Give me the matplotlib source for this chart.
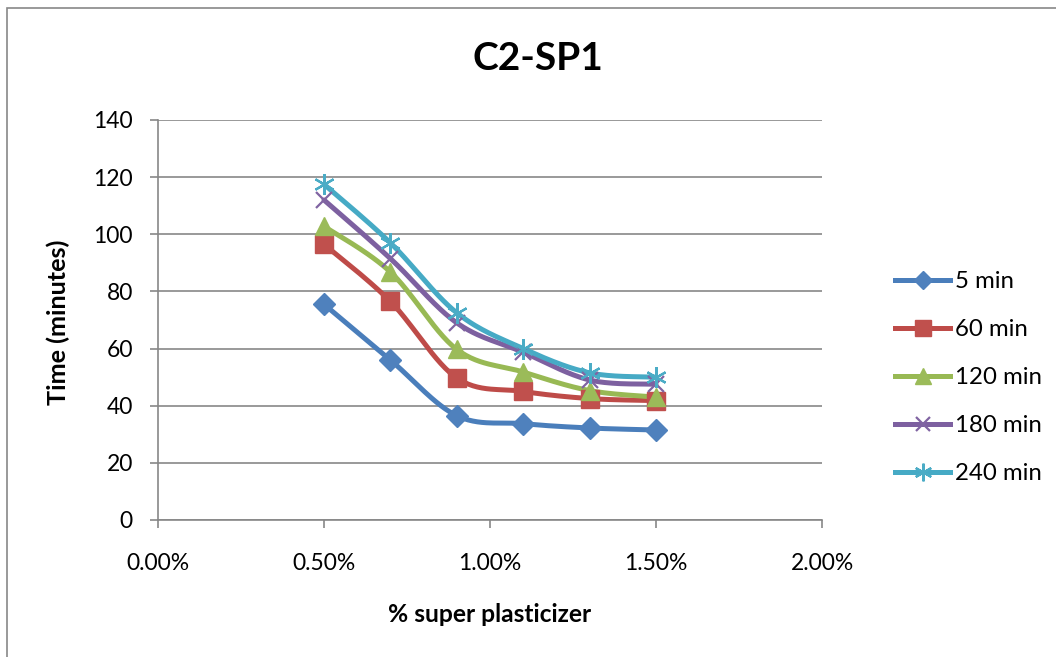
import numpy as np
import matplotlib
matplotlib.use("Agg")
import matplotlib.pyplot as plt
from matplotlib.ticker import PercentFormatter, MultipleLocator
from matplotlib.patches import Rectangle

plt.rcParams['font.family'] = ['Lato', 'DejaVu Sans']

# Data
sp_dose = [0.005, 0.007, 0.009, 0.011, 0.013, 0.015]
series_names = ["5 min", "60 min", "120 min", "180 min", "240 min"]
t5 = [75.5, 56.0, 36.5, 33.7, 32.2, 31.5]
t60 = [96.5, 76.5, 49.7, 45.0, 42.5, 41.8]
t120 = [102.8, 86.8, 59.7, 51.8, 45.3, 43.0]
t180 = [112.0, 91.5, 69.0, 58.7, 49.0, 47.5]
t240 = [117.5, 97.0, 72.5, 60.0, 51.5, 50.0]
values = [t5, t60, t120, t180, t240]

line_colors = ["#4A7EBB", "#BE4B48", "#98B954", "#7D60A0", "#46AAC5"]
marker_colors = ["#4F81BD", "#C0504D", "#9BBB59", "#8064A2", "#4BACC6"]
markers = ["D", "s", "^", "x", (6, 2, 0)]
msizes = [11, 13, 13, 12, 15]

XMAX, YMAX = 0.02, 140.0

def smooth(x, y, n=30):
    px = np.asarray(x) / XMAX * 664.0
    py = np.asarray(y) / YMAX * 400.0
    P = np.column_stack([px, py])
    out = [P[0]]
    for i in range(len(P) - 1):
        p0 = P[i - 1] if i > 0 else P[i]
        p1 = P[i]
        p2 = P[i + 1]
        p3 = P[i + 2] if i + 2 < len(P) else P[i + 1]
        c1 = p1 + (p2 - p0) / 6.0
        c2 = p2 - (p3 - p1) / 6.0
        t = np.linspace(0, 1, n)[1:, None]
        seg = ((1 - t) ** 3) * p1 + 3 * ((1 - t) ** 2) * t * c1 + 3 * (1 - t) * t ** 2 * c2 + t ** 3 * p2
        out.extend(seg)
    out = np.array(out)
    return out[:, 0] / 664.0 * XMAX, out[:, 1] / 400.0 * YMAX

fig = plt.figure(figsize=(10.56, 6.57), dpi=100)
W, H = 1056, 657
renderer = fig.canvas.get_renderer()

def fit_size(text, target_px, bold=False, base=14.0):
    t = fig.text(0, 0, text, fontsize=base, fontweight='bold' if bold else 'normal')
    w = t.get_window_extent(renderer=renderer).width
    t.remove()
    return base * target_px / w

fs_title = fit_size("C2-SP1", 131, bold=True)
fs_xlab = fit_size("% super plasticizer", 204, bold=True)
fs_ylab = fit_size("Time (minutes)", 167, bold=True)
fs_tick = fit_size("0.00%", 64)
fs_leg = fit_size("240 min", 87)
leg_px = fs_leg * 100 / 72.0

fig.patches.append(Rectangle((7 / W, -0.1), 1.2, (H - 8) / H + 0.1, transform=fig.transFigure,
                             fill=False, edgecolor="#888888", linewidth=1.2))

ax = fig.add_axes([158 / W, 1 - 520 / H, (822 - 158) / W, 400 / H])
ax.set_xlim(0, XMAX)
ax.set_ylim(0, YMAX)
ax.xaxis.set_major_locator(MultipleLocator(0.005))
ax.xaxis.set_major_formatter(PercentFormatter(xmax=1, decimals=2))
ax.yaxis.set_major_locator(MultipleLocator(20))
ax.grid(axis='y', color="#878787", linewidth=1.2)
ax.set_axisbelow(True)
for s in ["top", "right"]:
    ax.spines[s].set_visible(False)
for s in ["left", "bottom"]:
    ax.spines[s].set_color("#878787")
    ax.spines[s].set_linewidth(1.2)
ax.tick_params(axis='both', direction='out', length=6, width=1.2, color="#878787",
               labelsize=fs_tick, colors="black")
ax.tick_params(axis='y', pad=12)
ax.tick_params(axis='x', pad=18)

for name, vals, lc, mc, mk, ms in zip(series_names, values, line_colors, marker_colors, markers, msizes):
    sx, sy = smooth(sp_dose, vals)
    ax.plot(sx, sy, color=lc, linewidth=3.6, solid_capstyle='round', zorder=3)
    ax.plot(sp_dose, vals, linestyle='none', marker=mk, markersize=ms, color=mc,
            markeredgecolor=mc, markeredgewidth=1.6 if mk in ("x", (6, 2, 0)) else 1, zorder=4)
    ax.plot([], [], color=lc, linewidth=3.6, marker=mk, markersize=ms * 0.85, markerfacecolor=mc,
            markeredgecolor=mc, markeredgewidth=1.6 if mk in ("x", (6, 2, 0)) else 1, label=name)

spacing = (48 - 1.0 * leg_px) / leg_px * 0.92 + 5 / leg_px
leg = ax.legend(loc='upper left', bbox_to_anchor=(895 / W, 1 - 271 / H), bbox_transform=fig.transFigure,
                frameon=False, fontsize=fs_leg, borderpad=0, borderaxespad=0,
                handlelength=55 / leg_px, handletextpad=5 / leg_px, labelspacing=spacing)

fig.text(538 / W, 1 - 59 / H, "C2-SP1", fontsize=fs_title, fontweight='bold', ha='center', va='center')
fig.text(490 / W, 1 - 615 / H, "% super plasticizer", fontsize=fs_xlab, fontweight='bold',
         ha='center', va='center')
fig.text(58 / W, 1 - 322 / H, "Time (minutes)", fontsize=fs_ylab, fontweight='bold', ha='center', va='center',
         rotation=90)

fig.savefig("out.png", dpi=100)
